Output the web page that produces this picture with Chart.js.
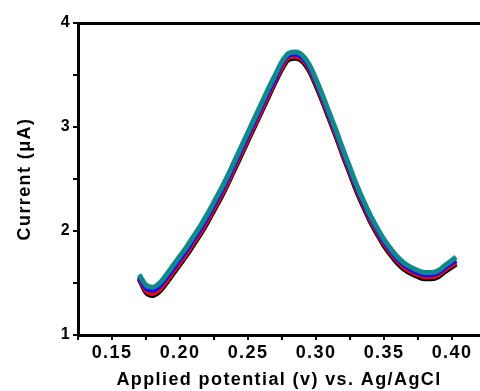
<!DOCTYPE html>
<html>
<head>
<meta charset="utf-8">
<script src="https://cdn.jsdelivr.net/npm/chart.js@4/dist/chart.umd.min.js"></script>
<style>
html,body{margin:0;padding:0;background:#fff;}
#wrap{width:480px;height:391px;position:relative;}
</style>
</head>
<body>
<div id="wrap"><canvas id="c" width="480" height="391"></canvas></div>
<script>
const potential = [0.170,0.175,0.180,0.185,0.190,0.195,0.200,0.205,0.210,0.215,0.220,0.225,0.230,0.235,0.240,0.245,0.250,0.255,0.260,0.265,0.270,0.275,0.280,0.285,0.290,0.295,0.300,0.305,0.310,0.315,0.320,0.325,0.330,0.335,0.340,0.345,0.350,0.355,0.360,0.365,0.370,0.375,0.380,0.385,0.390,0.395,0.403];
const currentTeal  = [1.58,1.48,1.46,1.50,1.58,1.67,1.76,1.85,1.95,2.05,2.16,2.28,2.40,2.53,2.67,2.81,2.95,3.09,3.23,3.37,3.50,3.63,3.71,3.72,3.69,3.60,3.46,3.30,3.13,2.96,2.78,2.61,2.44,2.29,2.15,2.03,1.92,1.83,1.75,1.69,1.65,1.62,1.60,1.60,1.62,1.67,1.75];
const currentBlue  = [1.56,1.45,1.43,1.47,1.55,1.64,1.73,1.82,1.92,2.02,2.13,2.25,2.37,2.50,2.64,2.78,2.92,3.06,3.20,3.34,3.47,3.61,3.69,3.70,3.67,3.58,3.44,3.28,3.11,2.94,2.76,2.59,2.42,2.27,2.13,2.01,1.90,1.81,1.73,1.67,1.63,1.60,1.58,1.58,1.60,1.65,1.72];
const currentRed   = [1.55,1.43,1.40,1.44,1.52,1.61,1.70,1.79,1.89,1.99,2.10,2.22,2.34,2.47,2.61,2.75,2.89,3.03,3.17,3.31,3.45,3.58,3.67,3.68,3.65,3.56,3.42,3.26,3.09,2.92,2.74,2.57,2.40,2.25,2.11,1.99,1.88,1.79,1.71,1.65,1.61,1.58,1.56,1.56,1.58,1.63,1.70];
const currentBlack = [1.54,1.41,1.38,1.42,1.50,1.59,1.68,1.77,1.87,1.97,2.08,2.20,2.32,2.45,2.59,2.73,2.87,3.01,3.15,3.29,3.43,3.56,3.65,3.66,3.63,3.54,3.40,3.24,3.07,2.90,2.72,2.55,2.38,2.23,2.09,1.97,1.86,1.77,1.69,1.63,1.59,1.56,1.54,1.54,1.56,1.61,1.68];
const xTickLabels = ["0.15","0.20","0.25","0.30","0.35","0.40"];
const yTickLabels = ["1","2","3","4"];
const xTitle = "Applied potential (v) vs. Ag/AgCl";
const yTitle = "Current (\u03bcA)";

function pts(ys){ return potential.map((x,i)=>({x:x,y:ys[i]})); }
const FONT = "'Liberation Sans', Arial, sans-serif";

const spacing = {
  id:'spacing',
  beforeInit(c){ c.ctx.letterSpacing = '1.4px'; },
  beforeUpdate(c){ c.ctx.letterSpacing = '1.4px'; },
  beforeDraw(c){ c.ctx.letterSpacing = '1.4px'; }
};

new Chart(document.getElementById('c'), {
  type: 'line',
  plugins:[spacing],
  data: {
    datasets: [
      {data: pts(currentTeal),  borderColor:'#12888a'},
      {data: pts(currentBlue),  borderColor:'#1010ff'},
      {data: pts(currentRed),   borderColor:'#ff0000'},
      {data: pts(currentBlack), borderColor:'#000000'}
    ].map(d=>Object.assign(d,{borderWidth:5,pointRadius:0,fill:false,cubicInterpolationMode:'monotone'}))
  },
  options: {
    responsive:false, animation:false,
    layout:{padding:{top:23,right:0,left:0,bottom:0}},
    plugins:{legend:{display:false},tooltip:{enabled:false}},
    scales:{
      x:{type:'linear',min:0.125,max:0.4206,position:'bottom',
        afterFit(s){ s.height = 56; },
        afterBuildTicks(s){ const t=[]; for(let v=0.125; v<=0.42; v+=0.025){ t.push({value:Math.round(v*1000)/1000}); } s.ticks=t; },
        ticks:{color:'#000',font:{family:FONT,size:18,weight:'bold'},padding:2,maxRotation:0,autoSkip:false,
          callback(v){ const s=v.toFixed(2); return (Math.round(v*1000)%50===0 && xTickLabels.includes(s)) ? s : ''; }},
        grid:{display:true,drawOnChartArea:false,drawTicks:true,tickLength:5,color:'#000',lineWidth:2},
        border:{display:true,color:'#000',width:3},
        title:{display:true,text:xTitle,color:'#000',font:{family:FONT,size:18,weight:'bold'},padding:{top:0,bottom:0}}
      },
      xTop:{type:'linear',min:0.125,max:0.4206,position:'top',
        afterFit(s){ s.height = 0; },
        ticks:{display:false},grid:{display:false,drawTicks:false},
        border:{display:true,color:'#000',width:3}
      },
      y:{type:'linear',min:1,max:4,position:'left',
        afterFit(s){ s.width = 78; },
        afterBuildTicks(s){ const t=[]; for(let v=1; v<=4.001; v+=0.5){ t.push({value:v}); } s.ticks=t; },
        ticks:{color:'#000',font:{family:FONT,size:16,weight:'bold'},padding:2,autoSkip:false,
          callback(v){ const s=String(v); return yTickLabels.includes(s) ? s : ''; }},
        grid:{display:true,drawOnChartArea:false,drawTicks:true,tickLength:5,color:'#000',lineWidth:2},
        border:{display:true,color:'#000',width:3},
        title:{display:true,text:yTitle,color:'#000',font:{family:FONT,size:18,weight:'bold'},padding:{top:14,bottom:0}}
      }
    }
  }
});
</script>
</body>
</html>
